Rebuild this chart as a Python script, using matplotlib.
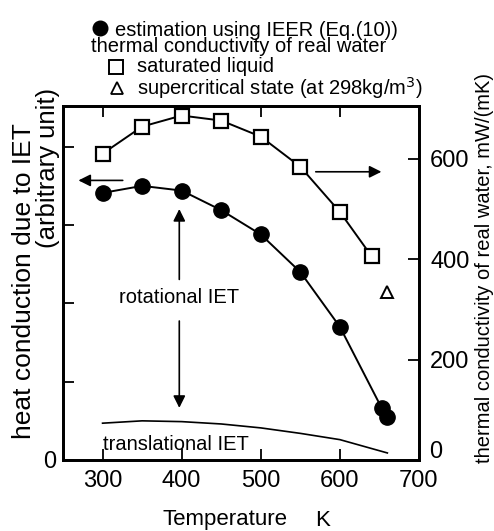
import matplotlib
matplotlib.use("Agg")
import matplotlib.pyplot as plt
from matplotlib.lines import Line2D

plt.rcParams['font.family'] = ['Liberation Sans', 'DejaVu Sans']

# data
T_ieer = [300, 350, 400, 450, 500, 550, 600, 653, 659]
ieer = [3.41, 3.50, 3.44, 3.19, 2.88, 2.40, 1.70, 0.66, 0.55]

T_sat = [300, 350, 400, 450, 500, 550, 600, 640]
k_sat = [610, 664, 686, 676, 644, 584, 494, 406]

T_sc = [660]
k_sc = [334]

T_trans = [300, 350, 400, 450, 500, 550, 600, 660]
trans = [0.47, 0.50, 0.49, 0.46, 0.41, 0.34, 0.26, 0.09]

xticks = [300, 400, 500, 600, 700]
rticks = [0, 200, 400, 600]
rticklabels = ['', '200', '400', '600']
lticks = [0, 1, 2, 3, 4]
lticklabels = ['0', '', '', '', '']

W, H = 494, 531
fig = plt.figure(figsize=(W / 100, H / 100), dpi=100)
ax = fig.add_axes([63 / W, 1 - 460 / H, (419 - 63) / W, (460 - 106) / H])
ax2 = ax.twinx()

ax.set_xlim(250, 700)
ax.set_ylim(0, 4.52)
ax2.set_ylim(0, 705)

ax.plot(T_ieer, ieer, '-o', color='black', lw=1.4, ms=11, zorder=3)
ax.plot(T_trans, trans, '-', color='black', lw=1.2)
ax2.plot(T_sat, k_sat, '-s', color='black', lw=1.4, ms=10, mfc='white', mew=1.6, zorder=3)
ax2.plot(T_sc, k_sc, '^', color='black', ms=9, mfc='white', mew=1.4)

# tick styling
ax.set_xticks(xticks)
ax.set_yticks(lticks)
ax.set_yticklabels(lticklabels)
ax2.set_yticks(rticks)
ax2.set_yticklabels(rticklabels)
ax.tick_params(axis='x', direction='in', length=8, width=1.3, top=True, labelsize=17, pad=7)
ax.tick_params(axis='y', direction='in', length=8, width=1.3, labelsize=17, pad=5)
ax2.tick_params(axis='y', direction='in', length=8, width=1.3, labelsize=17, pad=8)
for a in (ax, ax2):
    for s in a.spines.values():
        s.set_linewidth(2)
# raised "0" of the right axis (as in the reference)
fig.text(436 / W, 1 - 452 / H, '0', ha='center', va='center', fontsize=17)

# arrows
arr = dict(arrowstyle='-|>', color='black', lw=1.2, mutation_scale=18)
ax.annotate('', xy=(266, 3.57), xytext=(329, 3.57), arrowprops=arr)
ax2.annotate('', xy=(656, 574), xytext=(566, 574), arrowprops=arr)
ax.annotate('', xy=(397, 3.24), xytext=(397, 2.27), arrowprops=arr)
ax.annotate('', xy=(397, 0.63), xytext=(397, 1.81), arrowprops=arr)

ax.text(397, 2.07, 'rotational IET', ha='center', va='center', fontsize=14.5)
ax.text(300, 0.20, 'translational IET', ha='left', va='center', fontsize=14.5)

# axis labels
fig.text(225 / W, 1 - 520 / H, 'Temperature', ha='center', va='center', fontsize=16)
fig.text(323 / W, 1 - 520 / H, 'K', ha='center', va='center', fontsize=16)
fig.text(24 / W, 1 - 281 / H, 'heat conduction due to IET', rotation=90,
         ha='center', va='center', fontsize=19)
fig.text(48 / W, 1 - 168 / H, '(arbitrary unit)', rotation=90,
         ha='center', va='center', fontsize=18.5)
fig.text(484 / W, 1 - 268 / H, 'thermal conductivity of real water, mW/(mK)',
         rotation=90, ha='center', va='center', fontsize=14.5)

# legend
def fig_marker(x, y, **kw):
    fig.add_artist(Line2D([x / W], [1 - y / H], transform=fig.transFigure,
                          color='black', linestyle='none', **kw))

fig_marker(100, 28, marker='o', ms=10.5)
fig_marker(116, 67, marker='s', ms=10, mfc='white', mew=1.4)
fig_marker(117, 88, marker='^', ms=9, mfc='white', mew=1.3)
fig.text(115 / W, 1 - 30 / H, 'estimation using IEER (Eq.(10))', ha='left', va='center', fontsize=14.5)
fig.text(91 / W, 1 - 47 / H, 'thermal conductivity of real water', ha='left', va='center', fontsize=14.5)
fig.text(137 / W, 1 - 67 / H, 'saturated liquid', ha='left', va='center', fontsize=14.5)
fig.text(137 / W, 1 - 88 / H, 'supercritical state (at 298kg/m$^3$)', ha='left', va='center', fontsize=14.5)

fig.savefig('out.png', dpi=100)
